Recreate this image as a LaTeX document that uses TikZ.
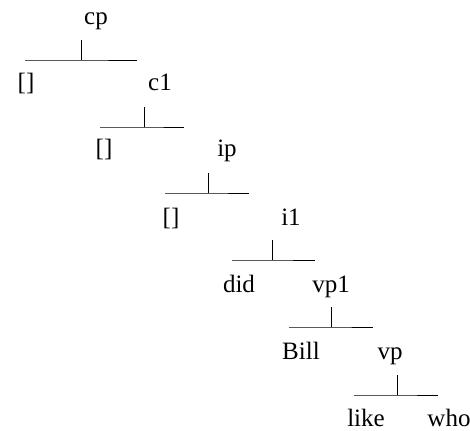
\documentclass[tikz,border=0pt]{standalone}
\usepackage{fontspec}
\setmainfont{Liberation Serif}
\begin{document}
\begin{tikzpicture}[x=1pt,y=-1pt,
  lbl/.style={font=\fontsize{25}{25}\selectfont, anchor=base, inner sep=0pt},
  barline/.style={line width=0.9pt, black}]
\useasboundingbox (0,0) rectangle (470,430);

% \treebar{name}{left}{pipe}{right}{y}: one branching bar of the tree
\newcommand{\treebar}[5]{%
  \coordinate (#1L) at (#2,#5);
  \coordinate (#1P) at (#3,#5);
  \coordinate (#1T) at (#3,#5-20);
  \coordinate (#1R) at (#4,#5);
  \draw[barline] (#1L) -- (#1P) -- (#1R);
  \draw[barline] (#1P) -- (#1T);
}

% labels, placed on their baselines
\node[lbl] (cp)   at (96,25)   {cp};
\node[lbl] (e1)   at (26,91)   {[]};
\node[lbl] (c1)   at (160,91)  {c1};
\node[lbl] (e2)   at (104,157) {[]};
\node[lbl] (ip)   at (227,157) {ip};
\node[lbl] (e3)   at (171,225) {[]};
\node[lbl] (i1)   at (291,225) {i1};
\node[lbl] (did)  at (239,292) {did};
\node[lbl] (vp1)  at (331,292) {vp1};
\node[lbl] (bill) at (301,359) {Bill};
\node[lbl] (vp)   at (390,359) {vp};
\node[lbl] (like) at (366,426) {like};
\node[lbl] (who)  at (449,426) {who};

% branching bars under each phrase
\treebar{b1}{25}{81}{137}{60}
\treebar{b2}{100}{144}{184}{127}
\treebar{b3}{165}{208}{249}{193}
\treebar{b4}{232}{272}{315}{260}
\treebar{b5}{289}{331}{373}{327}
\treebar{b6}{354}{397}{438}{395}
\end{tikzpicture}
\end{document}
